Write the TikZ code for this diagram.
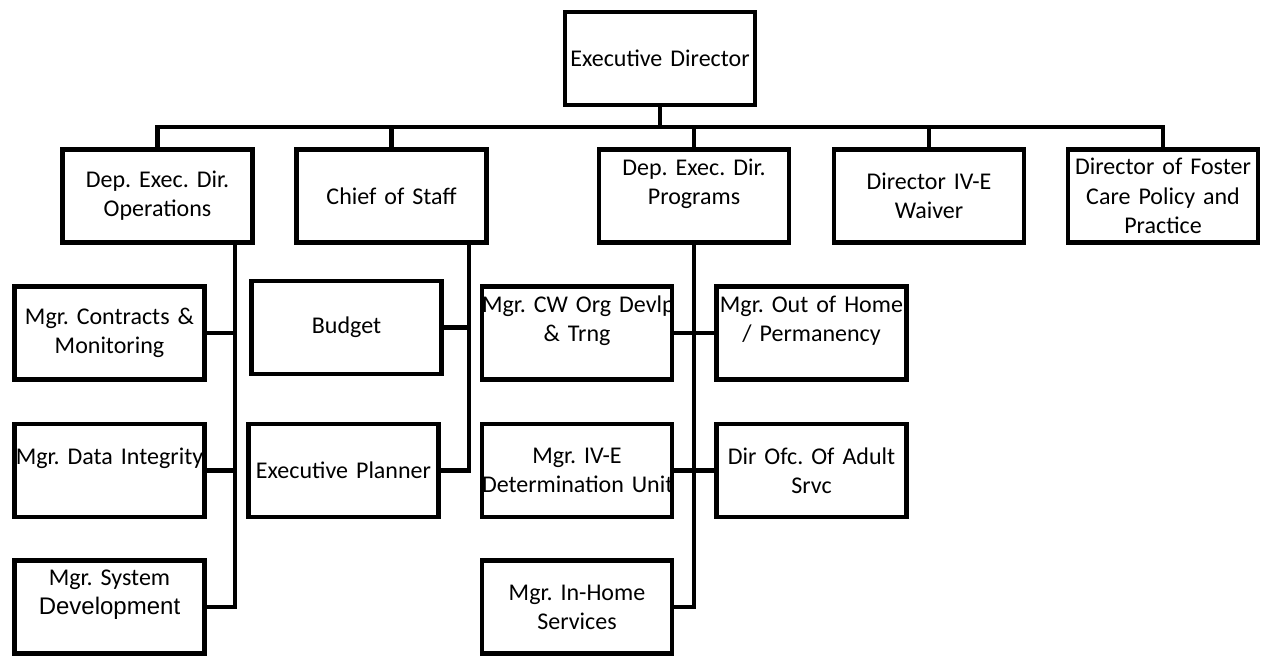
\documentclass[tikz,border=0pt]{standalone}
\usepackage{fontspec}
\setmainfont{Carlito}
\newfontfamily\arialfont{Liberation Sans}
\def\boxwidth{95pt}

\begin{document}
\begin{tikzpicture}[x=0.5pt, y=-0.5pt, line width=2.2pt, font=\fontsize{12}{14.6}\selectfont\frenchspacing]
    \tikzstyle{post}=[rectangle, draw=black, fill=white, text width=\boxwidth, align=center, inner xsep=0pt, inner ysep=0pt, minimum height=46.5pt]
    \tikzstyle{link}=[draw=black, line width=2.2pt]

    \useasboundingbox (0,0) rectangle (1263,656);

    % Draw the top node
    \node[post] (ed) at (660,58.5) {Executive Director};

    % Draw the second row
    \node[post] (ops) at (157.5,196) {Dep. Exec. Dir.\\Operations};
    \node[post] (cos) at (391.5,196) {Chief of Staff};
    \node[post] (prog) at (694,196) {Dep. Exec. Dir.\\Programs\\\mbox{}};
    \node[post] (waiver) at (929,196) {Director IV-E\\Waiver};
    \node[post] (foster) at (1163,196) {Director of Foster\\Care Policy and\\Practice};

    % Draw the staff under operations
    \node[post] (contracts) at (109.5,333) {Mgr. Contracts \&\\Monitoring};
    \node[post] (data) at (109.5,470.5) {\mbox{Mgr. Data Integrity}\\\mbox{}};
    \node[post] (sysdev) at (109.5,607) {Mgr. System\\{\arialfont Development}\\\mbox{}};

    % Draw the staff under chief of staff
    \node[post] (budget) at (346.5,327.5) {Budget};
    \node[post] (planner) at (343.5,470.5) {Executive Planner};

    % Draw the staff under programs
    \node[post] (cw) at (577,333) {\mbox{Mgr. CW Org Devlp}\\\& Trng\\\mbox{}};
    \node[post] (outhome) at (811.5,333) {Mgr. Out of Home\\/ Permanency\\\mbox{}};
    \node[post] (ive) at (577,470.5) {Mgr. IV-E\\\mbox{Determination Unit}};
    \node[post] (dirofc) at (811.5,470.5) {Dir Ofc. Of Adult\\Srvc};
    \node[post] (inhome) at (577,607) {Mgr. In-Home\\Services};

    % Connect the top node with every node in the second row
    \coordinate (bar) at (660,127);
    \draw[link] (ed.south) -- (bar);
    \foreach \dest in {ops,cos,prog,waiver,foster}
        \draw[link] (\dest.north) |- (bar);

    % Connect each deputy with the staff below
    \coordinate (opsbus) at ([xshift=-10pt]ops.south east);
    \coordinate (cosbus) at ([xshift=-10pt]cos.south east);
    \foreach \dest in {contracts,data,sysdev}
        \draw[link] (opsbus) |- (\dest.east);
    \foreach \dest in {budget,planner}
        \draw[link] (cosbus) |- (\dest.east);
    \foreach \dest in {cw,ive,inhome}
        \draw[link] (prog.south) |- (\dest.east);
    \foreach \dest in {outhome,dirofc}
        \draw[link] (prog.south) |- (\dest.west);
\end{tikzpicture}
\end{document}
